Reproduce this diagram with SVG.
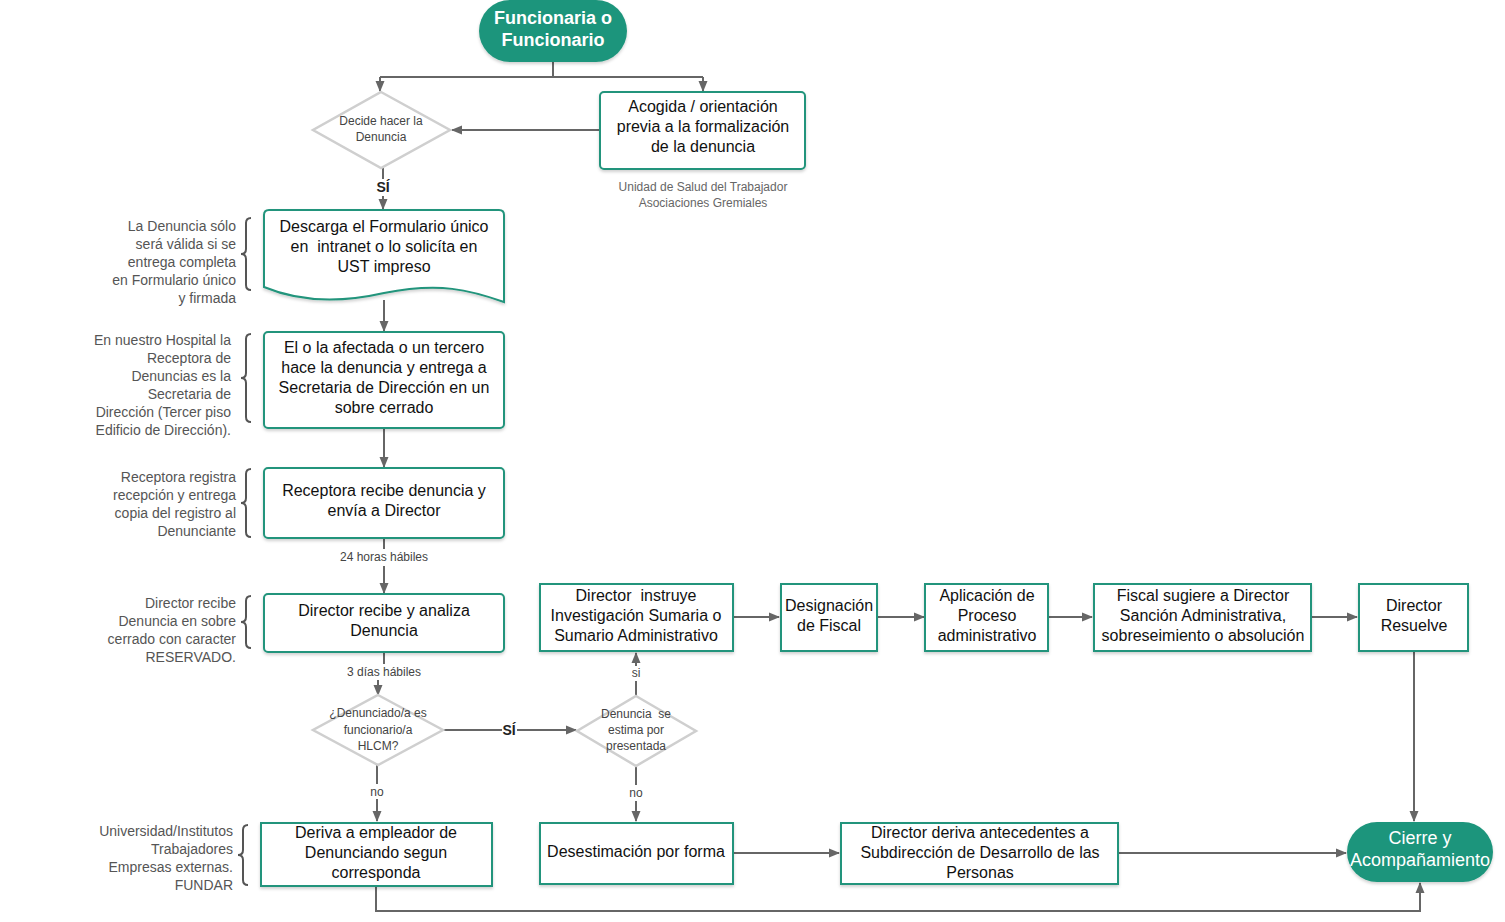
<svg xmlns="http://www.w3.org/2000/svg" width="1505" height="922" viewBox="0 0 1505 922">
<defs>
<marker id="ah" markerWidth="11" markerHeight="11" refX="10" refY="5.5" orient="auto" markerUnits="userSpaceOnUse"><path d="M0,1 L11,5.5 L0,10 Z" fill="#666"/></marker>
<filter id="sh" x="-10%" y="-10%" width="120%" height="130%"><feDropShadow dx="0" dy="2" stdDeviation="1.5" flood-color="#000" flood-opacity="0.18"/></filter>
</defs>
<style>
text{font-family:"Liberation Sans",Arial,sans-serif}
.box{fill:#fff;stroke:#21947b;stroke-width:2;filter:url(#sh)}
.pill{fill:#1f957b;filter:url(#sh)}
.dia{fill:#fff;stroke:#cfcfcf;stroke-width:2.5}
.t{font-size:16px;fill:#111;text-anchor:middle}
.ts{font-size:12px;fill:#444;text-anchor:middle}
.an{font-size:14px;fill:#555;text-anchor:end}
.lb{font-size:12px;fill:#444;text-anchor:middle}
.si{font-size:14px;font-weight:bold;fill:#222;text-anchor:middle}
.pw{font-size:18px;fill:#fff;text-anchor:middle}
.c{fill:none;stroke:#666;stroke-width:2}
.ca{fill:none;stroke:#666;stroke-width:2;marker-end:url(#ah)}
.br{fill:none;stroke:#555;stroke-width:2}
</style>
<rect width="1505" height="922" fill="#fff"/>

<g id="connectors">
<path class="c" d="M553,62 V77 M380,77 H703"/>
<path class="ca" d="M380,77 V91"/>
<path class="ca" d="M703,77 V91"/>
<path class="ca" d="M600,130 H452"/>
<path class="c" d="M383,168 V179"/>
<path class="ca" d="M383,196 V209"/>
<path class="ca" d="M384,300 V331"/>
<path class="ca" d="M384,428 V467"/>
<path class="c" d="M384,538 V549"/>
<path class="ca" d="M384,566 V593"/>
<path class="c" d="M384,652 V664"/>
<path class="ca" d="M378,680 V695"/>
<path class="c" d="M443,730 H502"/>
<path class="ca" d="M517,730 H576"/>
<path class="c" d="M636,696 V681"/>
<path class="ca" d="M636,666 V653"/>
<path class="c" d="M377,765 V784"/>
<path class="ca" d="M377,799 V821"/>
<path class="c" d="M636,766 V785"/>
<path class="ca" d="M636,801 V821"/>
<path class="ca" d="M733,617 H779"/>
<path class="ca" d="M877,617 H924"/>
<path class="ca" d="M1048,617 H1092"/>
<path class="ca" d="M1311,617 H1357"/>
<path class="ca" d="M1414,651 V821"/>
<path class="ca" d="M733,853 H839"/>
<path class="ca" d="M1118,853 H1346"/>
<path class="ca" d="M376,886 V911 H1420 V883"/>
<text class="si" x="383" y="192">SÍ</text>
<text class="lb" x="384" y="561">24 horas hábiles</text>
<text class="lb" x="384" y="676">3 días hábiles</text>
<text class="si" x="509" y="735">SÍ</text>
<text class="lb" x="636" y="677">si</text>
<text class="lb" x="377" y="796">no</text>
<text class="lb" x="636" y="797">no</text>
</g>

<g id="start">
<rect class="pill" x="479" y="0" width="148" height="62" rx="31"/>
<text class="pw" font-weight="bold" x="553" y="24">Funcionaria o</text>
<text class="pw" font-weight="bold" x="553" y="46">Funcionario</text>
</g>

<g id="decide">
<polygon class="dia" points="381,92 450,130 381,168 313,130"/>
<text class="ts" x="381" y="125">Decide hacer la</text>
<text class="ts" x="381" y="141">Denuncia</text>
</g>

<g id="acogida">
<rect class="box" x="600" y="92" width="205" height="77" rx="4"/>
<text class="t" x="703" y="112">Acogida / orientación</text>
<text class="t" x="703" y="132">previa a la formalización</text>
<text class="t" x="703" y="152">de la denuncia</text>
<text class="ts" x="703" y="191" style="fill:#666">Unidad de Salud del Trabajador</text>
<text class="ts" x="703" y="207" style="fill:#666">Asociaciones Gremiales</text>
</g>

<g id="descarga">
<path class="box" d="M269,210 H499 Q504,210 504,215 V302 C470,290 440,282 384,293 C340,303 300,302 264,287 V215 Q264,210 269,210 Z"/>
<text class="t" x="384" y="232">Descarga el Formulario único</text>
<text class="t" x="384" y="252" xml:space="preserve">en  intranet o lo solicíta en</text>
<text class="t" x="384" y="272">UST impreso</text>
<path class="br" d="M251,218 Q246,218 246,223 V249 Q246,254 241,254 Q246,254 246,259 V285 Q246,290 251,290"/>
<text class="an" x="236" y="231">La Denuncia sólo</text>
<text class="an" x="236" y="249">será válida si se</text>
<text class="an" x="236" y="267">entrega completa</text>
<text class="an" x="236" y="285">en Formulario único</text>
<text class="an" x="236" y="303">y firmada</text>
</g>

<g id="afectada">
<rect class="box" x="264" y="332" width="240" height="96" rx="4"/>
<text class="t" x="384" y="353">El o la afectada o un tercero</text>
<text class="t" x="384" y="373">hace la denuncia y entrega a</text>
<text class="t" x="384" y="393">Secretaria de Dirección en un</text>
<text class="t" x="384" y="413">sobre cerrado</text>
<path class="br" d="M251,334 Q246,334 246,339 V373 Q246,378 241,378 Q246,378 246,383 V417 Q246,422 251,422"/>
<text class="an" x="231" y="345">En nuestro Hospital la</text>
<text class="an" x="231" y="363">Receptora de</text>
<text class="an" x="231" y="381">Denuncias es la</text>
<text class="an" x="231" y="399">Secretaria de</text>
<text class="an" x="231" y="417">Dirección (Tercer piso</text>
<text class="an" x="231" y="435">Edificio de Dirección).</text>
</g>

<g id="receptora">
<rect class="box" x="264" y="468" width="240" height="70" rx="4"/>
<text class="t" x="384" y="496">Receptora recibe denuncia y</text>
<text class="t" x="384" y="516">envía a Director</text>
<path class="br" d="M251,469 Q246,469 246,474 V498 Q246,503 241,503 Q246,503 246,508 V532 Q246,537 251,537"/>
<text class="an" x="236" y="482">Receptora registra</text>
<text class="an" x="236" y="500">recepción y entrega</text>
<text class="an" x="236" y="518">copia del registro al</text>
<text class="an" x="236" y="536">Denunciante</text>
</g>

<g id="director-analiza">
<rect class="box" x="264" y="594" width="240" height="58" rx="4"/>
<text class="t" x="384" y="616">Director recibe y analiza</text>
<text class="t" x="384" y="636">Denuncia</text>
<path class="br" d="M251,596 Q246,596 246,601 V617 Q246,622 241,622 Q246,622 246,627 V643 Q246,648 251,648"/>
<text class="an" x="236" y="608">Director recibe</text>
<text class="an" x="236" y="626">Denuncia en sobre</text>
<text class="an" x="236" y="644">cerrado con caracter</text>
<text class="an" x="236" y="662">RESERVADO.</text>
</g>

<g id="denunciado">
<polygon class="dia" points="378,695 443,730 378,765 313,730"/>
<text class="ts" x="378" y="717">¿Denunciado/a es</text>
<text class="ts" x="378" y="734">funcionario/a</text>
<text class="ts" x="378" y="750">HLCM?</text>
</g>

<g id="estima">
<polygon class="dia" points="636,696 696,731 636,766 577,731"/>
<text class="ts" x="636" y="718" xml:space="preserve">Denuncia  se</text>
<text class="ts" x="636" y="734">estima por</text>
<text class="ts" x="636" y="750">presentada</text>
</g>

<g id="instruye">
<rect class="box" x="540" y="584" width="193" height="67"/>
<text class="t" x="636" y="601" xml:space="preserve">Director  instruye</text>
<text class="t" x="636" y="621">Investigación Sumaria o</text>
<text class="t" x="636" y="641">Sumario Administrativo</text>
</g>

<g id="fiscal">
<rect class="box" x="781" y="584" width="96" height="67"/>
<text class="t" x="829" y="611">Designación</text>
<text class="t" x="829" y="631">de Fiscal</text>
</g>

<g id="proceso">
<rect class="box" x="925" y="584" width="123" height="67"/>
<text class="t" x="987" y="601">Aplicación de</text>
<text class="t" x="987" y="621">Proceso</text>
<text class="t" x="987" y="641">administrativo</text>
</g>

<g id="sugiere">
<rect class="box" x="1094" y="584" width="217" height="67"/>
<text class="t" x="1203" y="601">Fiscal sugiere a Director</text>
<text class="t" x="1203" y="621">Sanción Administrativa,</text>
<text class="t" x="1203" y="641">sobreseimiento o absolución</text>
</g>

<g id="resuelve">
<rect class="box" x="1359" y="584" width="109" height="67"/>
<text class="t" x="1414" y="611">Director</text>
<text class="t" x="1414" y="631">Resuelve</text>
</g>

<g id="deriva">
<rect class="box" x="261" y="823" width="231" height="63"/>
<text class="t" x="376" y="838">Deriva a empleador de</text>
<text class="t" x="376" y="858">Denunciando segun</text>
<text class="t" x="376" y="878">corresponda</text>
<path class="br" d="M248,825 Q243,825 243,830 V850 Q243,855 238,855 Q243,855 243,860 V880 Q243,885 248,885"/>
<text class="an" x="233" y="836">Universidad/Institutos</text>
<text class="an" x="233" y="854">Trabajadores</text>
<text class="an" x="233" y="872">Empresas externas.</text>
<text class="an" x="233" y="890">FUNDAR</text>
</g>

<g id="desestimacion">
<rect class="box" x="540" y="823" width="193" height="61"/>
<text class="t" x="636" y="857">Desestimación por forma</text>
</g>

<g id="antecedentes">
<rect class="box" x="841" y="823" width="277" height="61"/>
<text class="t" x="980" y="838">Director deriva antecedentes a</text>
<text class="t" x="980" y="858">Subdirección de Desarrollo de las</text>
<text class="t" x="980" y="878">Personas</text>
</g>

<g id="cierre">
<rect class="pill" x="1347" y="822" width="146" height="60" rx="30"/>
<text class="pw" x="1420" y="844">Cierre y</text>
<text class="pw" x="1420" y="866">Acompañamiento</text>
</g>
</svg>
